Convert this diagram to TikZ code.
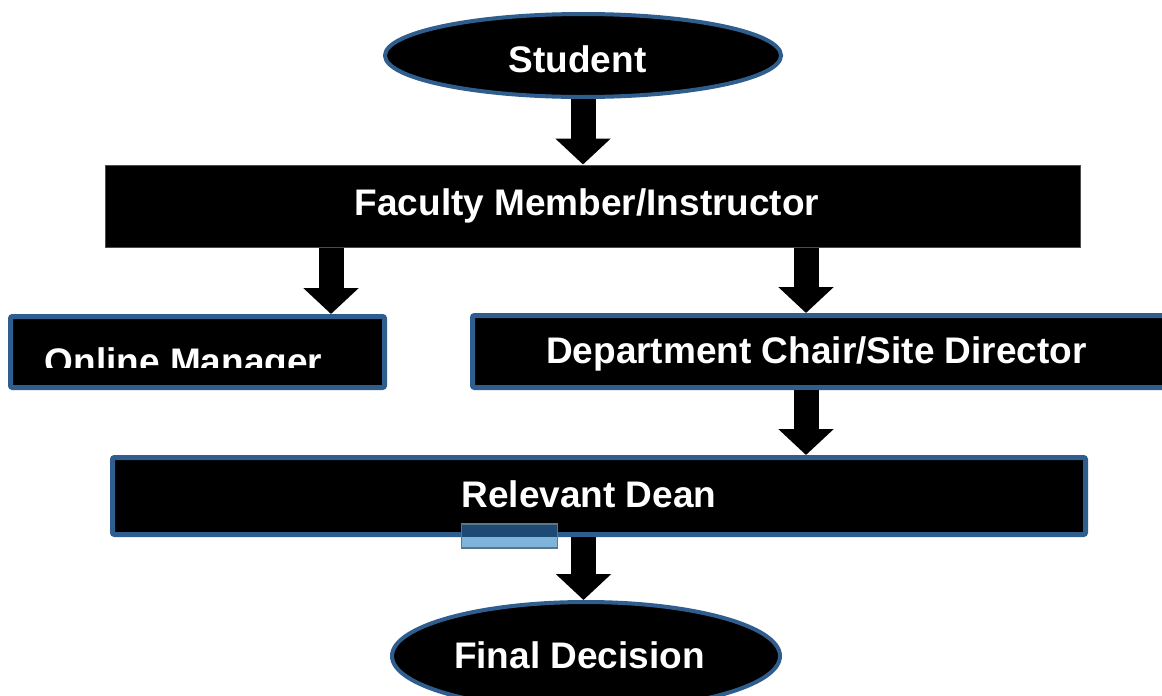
\documentclass[tikz,border=0pt]{standalone}
\usepackage{fontspec}
\setmainfont{Liberation Sans}
\usetikzlibrary{arrows.meta,shapes.geometric}
\definecolor{bordblue}{HTML}{2F5E8E}
\definecolor{lightblue}{HTML}{7FB5DA}
\definecolor{darkblue}{HTML}{1C4A74}
\definecolor{tabgray}{HTML}{5B7785}
\tikzset{
  box/.style={rectangle, fill=black, draw=bordblue, line width=5pt, rounded corners=2pt, inner sep=0pt},
  oval/.style={ellipse, fill=black, draw=bordblue, line width=4pt, inner sep=0pt},
  lbl/.style={text=white, font=\bfseries\fontsize{37}{40}\selectfont, inner sep=0pt, anchor=base},
  flow/.style={line width=25pt, -{Triangle[width=54pt,length=26pt]}}
}
\begin{document}
\begin{tikzpicture}[x=1pt,y=-1pt]
\clip (0,0) rectangle (1162,696);
\fill[white] (0,0) rectangle (1162,696);
% shapes
\node[oval, minimum width=396pt, minimum height=83pt] (student) at (583,55.5) {};
\node[rectangle, fill=black, draw=black!70, line width=1pt, inner sep=0pt, minimum width=975pt, minimum height=82pt] (faculty) at (592.5,206) {};
\node[box, minimum width=374pt, minimum height=71pt] (online) at (197.5,352) {};
\node[box, minimum width=695pt, minimum height=72pt] (dept) at (820,351.5) {};
\node[box, minimum width=973pt, minimum height=77pt] (dean) at (599,496) {};
\node[oval, minimum width=388pt, minimum height=108pt] (final) at (586,656) {};
% labels
\node[lbl] (tstudent) at (577.5,72) {Student};
\node[lbl] (tfaculty) at (587,215) {Faculty Member/Instructor};
\begin{scope}
  \clip (10,316) rectangle (385,367);
  \node[lbl] (tonline) at (183.5,374) {Online Manager};
\end{scope}
\node[lbl] (tdept) at (816.5,363) {Department Chair/Site Director};
\node[lbl] (tdean) at (589,507) {Relevant Dean};
\node[lbl] (tfinal) at (579.5,668) {Final Decision};
% small tab
\node[rectangle, fill=lightblue, draw=none, minimum width=96pt, minimum height=24pt, inner sep=0pt] (tab) at (509.5,536) {};
\fill[darkblue] (tab.north west) rectangle ([yshift=-13pt]tab.north east);
\draw[tabgray, line width=1.5pt] (tab.north west) rectangle (tab.south east);
% connectors
\draw[flow] (student.south) -- (student.south |- faculty.north);
\draw[flow] (faculty.south -| 331,0) -- (online.north -| 331,0);
\draw[flow] (faculty.south -| 806,0) -- (dept.north -| 806,0);
\draw[flow] (dept.south -| 806,0) -- (dean.north -| 806,0);
\draw[flow] (dean.south -| 583.5,0) -- (final.north -| 583.5,0);
\end{tikzpicture}
\end{document}
